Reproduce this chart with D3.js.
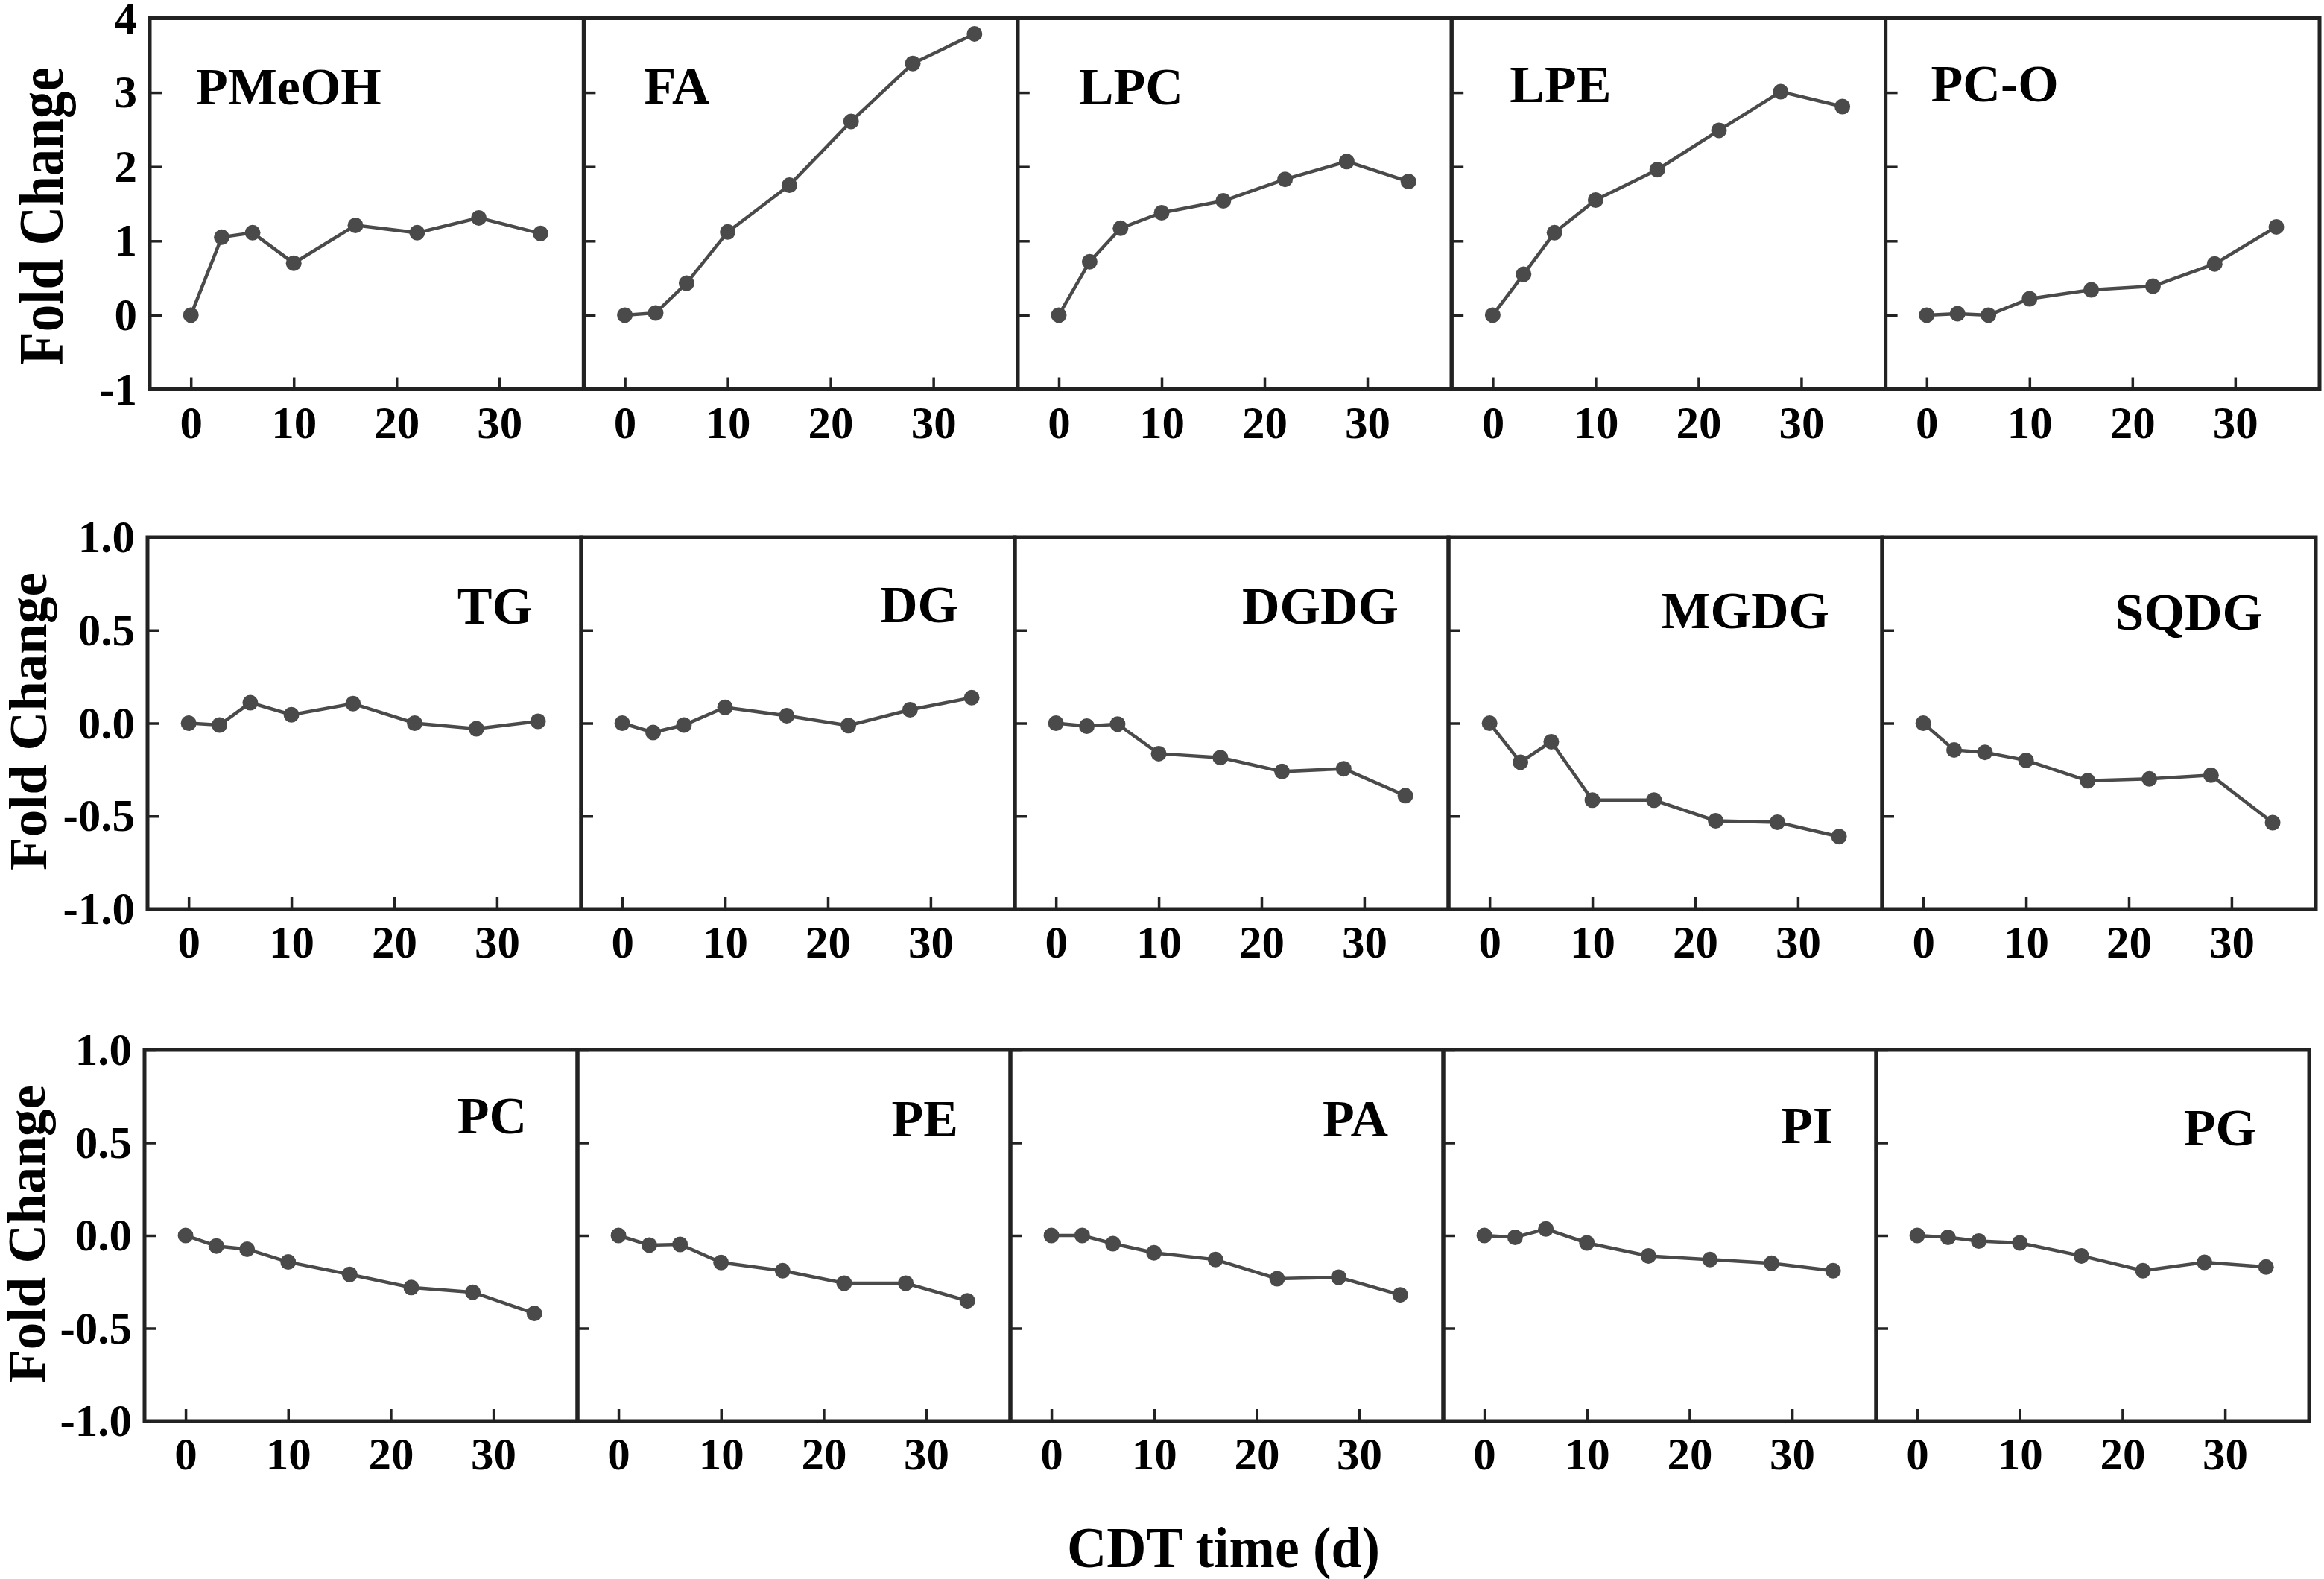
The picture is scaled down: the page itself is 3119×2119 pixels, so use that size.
<!DOCTYPE html>
<html>
<head>
<meta charset="utf-8">
<script src="https://cdn.jsdelivr.net/npm/d3@7/dist/d3.min.js"></script>
<style>
  html, body { margin: 0; padding: 0; background: #fff; }
  text { font-family: "Liberation Serif", "Times New Roman", serif; font-weight: bold; fill: #000; }
</style>
</head>
<body>
<svg id="chart" width="3119" height="2119"></svg>
<script>
// ---------------- data ----------------
const days = [0, 3, 6, 10, 16, 22, 28, 34];
const xTicks = [0, 10, 20, 30];

const row1Names = ["PMeOH", "FA", "LPC", "LPE", "PC-O"];
const row2Names = ["TG", "DG", "DGDG", "MGDG", "SQDG"];
const row3Names = ["PC", "PE", "PA", "PI", "PG"];

const PMeOH = [0, 1.05, 1.11, 0.70, 1.21, 1.11, 1.31, 1.10];
const FA    = [0, 0.03, 0.43, 1.12, 1.75, 2.61, 3.39, 3.79];
const LPC   = [0, 0.72, 1.17, 1.38, 1.54, 1.83, 2.07, 1.80];
const LPE   = [0, 0.55, 1.11, 1.55, 1.96, 2.49, 3.01, 2.81];
const PCO   = [0, 0.02, 0.00, 0.22, 0.34, 0.39, 0.69, 1.19];

const TG    = [0, -0.01, 0.11, 0.045, 0.105, 0.00, -0.03, 0.01];
const DG    = [0, -0.05, -0.01, 0.085, 0.04, -0.013, 0.072, 0.137];
const DGDG  = [0, -0.016, -0.005, -0.164, -0.185, -0.26, -0.245, -0.39];
const MGDG  = [0, -0.21, -0.10, -0.414, -0.414, -0.525, -0.533, -0.61];
const SQDG  = [0, -0.144, -0.157, -0.20, -0.31, -0.30, -0.28, -0.535];

const PC    = [0, -0.057, -0.074, -0.143, -0.21, -0.28, -0.306, -0.42];
const PE    = [0, -0.052, -0.048, -0.146, -0.19, -0.257, -0.257, -0.352];
const PA    = [0, 0.00, -0.044, -0.093, -0.13, -0.233, -0.225, -0.32];
const PI    = [0, -0.01, 0.035, -0.04, -0.11, -0.13, -0.15, -0.19];
const PG    = [0, -0.01, -0.03, -0.04, -0.11, -0.19, -0.145, -0.17];

const row1Ticks = [-1, 0, 1, 2, 3, 4];
const row23Ticks = [-1.0, -0.5, 0.0, 0.5, 1.0];
const row1Domain = [-1, 4];
const row23Domain = [-1, 1];

const yTitle = "Fold Change";
const xTitle = "CDT time (d)";

// ---------------- layout ----------------
const rowsLayout = [
  { top: 24.5, bottom: 522.5, left: 201, width: 582.4, names: row1Names, series: [PMeOH, FA, LPC, LPE, PCO],
    domain: row1Domain, ticks: row1Ticks, fmt: d => String(d).replace("\u2212", "-"),
    anchor: "start", labelDx: [62, 81, 82, 78, 61], labelDy: [115, 114, 115, 112, 111],
    yTitleX: 84, yTitleCy: 290, yTitleSize: 84 },
  { top: 721, bottom: 1220, left: 198, width: 582, names: row2Names, series: [TG, DG, DGDG, MGDG, SQDG],
    domain: row23Domain, ticks: row23Ticks, fmt: d => d.toFixed(1),
    anchor: "end", labelDx: [65, 76, 67, 71, 71], labelDy: [116, 114, 116, 122, 124],
    yTitleX: 62, yTitleCy: 968, yTitleSize: 72 },
  { top: 1409, bottom: 1907, left: 194, width: 581, names: row3Names, series: [PC, PE, PA, PI, PG],
    domain: row23Domain, ticks: row23Ticks, fmt: d => d.toFixed(1),
    anchor: "end", labelDx: [68, 70, 74, 58, 71], labelDy: [112, 116, 116, 125, 128],
    yTitleX: 60, yTitleCy: 1656, yTitleSize: 72 }
];

const xDomain = [-4, 38.2];
const ink = "#222";
const markColor = "#4a4a4a";

const svg = d3.select("#chart");

rowsLayout.forEach((row, ri) => {
  const y = d3.scaleLinear().domain(row.domain).range([row.bottom, row.top]);
  row.series.forEach((vals, pi) => {
    const x0 = row.left + pi * row.width;
    const x = d3.scaleLinear().domain(xDomain).range([x0, x0 + row.width]);
    const g = svg.append("g");

    // axes (inward ticks)
    const xAxis = d3.axisBottom(x).tickValues(xTicks).tickSize(-16).tickPadding(22).tickFormat(d3.format("d"));
    const gx = g.append("g").attr("transform", `translate(0,${row.bottom})`).call(xAxis);
    const yAxis = d3.axisLeft(y).tickValues(row.ticks).tickSize(-16).tickPadding(17)
      .tickFormat(pi === 0 ? row.fmt : () => "");
    const gy = g.append("g").attr("transform", `translate(${x0},0)`).call(yAxis);
    [gx, gy].forEach(a => {
      a.select(".domain").remove();
      a.selectAll(".tick line").attr("stroke", ink).attr("stroke-width", 3.5);
      a.selectAll(".tick text").attr("font-size", 61).attr("fill", "#000")
        .style("font-family", '"Liberation Serif", serif').style("font-weight", "bold");
    });

    // frame
    g.append("rect")
      .attr("x", x0).attr("y", row.top)
      .attr("width", row.width).attr("height", row.bottom - row.top)
      .attr("fill", "none").attr("stroke", ink).attr("stroke-width", 5);

    // line + markers
    const pts = days.map((d, i) => [d, vals[i]]);
    g.append("path").datum(pts)
      .attr("d", d3.line().x(d => x(d[0])).y(d => y(d[1])))
      .attr("fill", "none").attr("stroke", markColor).attr("stroke-width", 4.5);
    g.selectAll("circle.pt").data(pts).enter().append("circle")
      .attr("class", "pt")
      .attr("cx", d => x(d[0])).attr("cy", d => y(d[1])).attr("r", 10.5)
      .attr("fill", markColor);

    // panel label
    const lx = row.anchor === "start" ? x0 + row.labelDx[pi] : x0 + row.width - row.labelDx[pi];
    g.append("text")
      .attr("x", lx).attr("y", row.top + row.labelDy[pi])
      .attr("text-anchor", row.anchor)
      .attr("font-size", 70)
      .text(row.names[pi]);
  });

  // y title
  svg.append("text")
    .attr("transform", `translate(${row.yTitleX},${row.yTitleCy}) rotate(-90)`)
    .attr("text-anchor", "middle")
    .attr("font-size", row.yTitleSize)
    .attr("textLength", 400).attr("lengthAdjust", "spacingAndGlyphs")
    .text(yTitle);
});

// x title
svg.append("text")
  .attr("x", 1642).attr("y", 2103)
  .attr("text-anchor", "middle")
  .attr("font-size", 78)
  .attr("textLength", 420).attr("lengthAdjust", "spacingAndGlyphs")
  .text(xTitle);
</script>
</body>
</html>
